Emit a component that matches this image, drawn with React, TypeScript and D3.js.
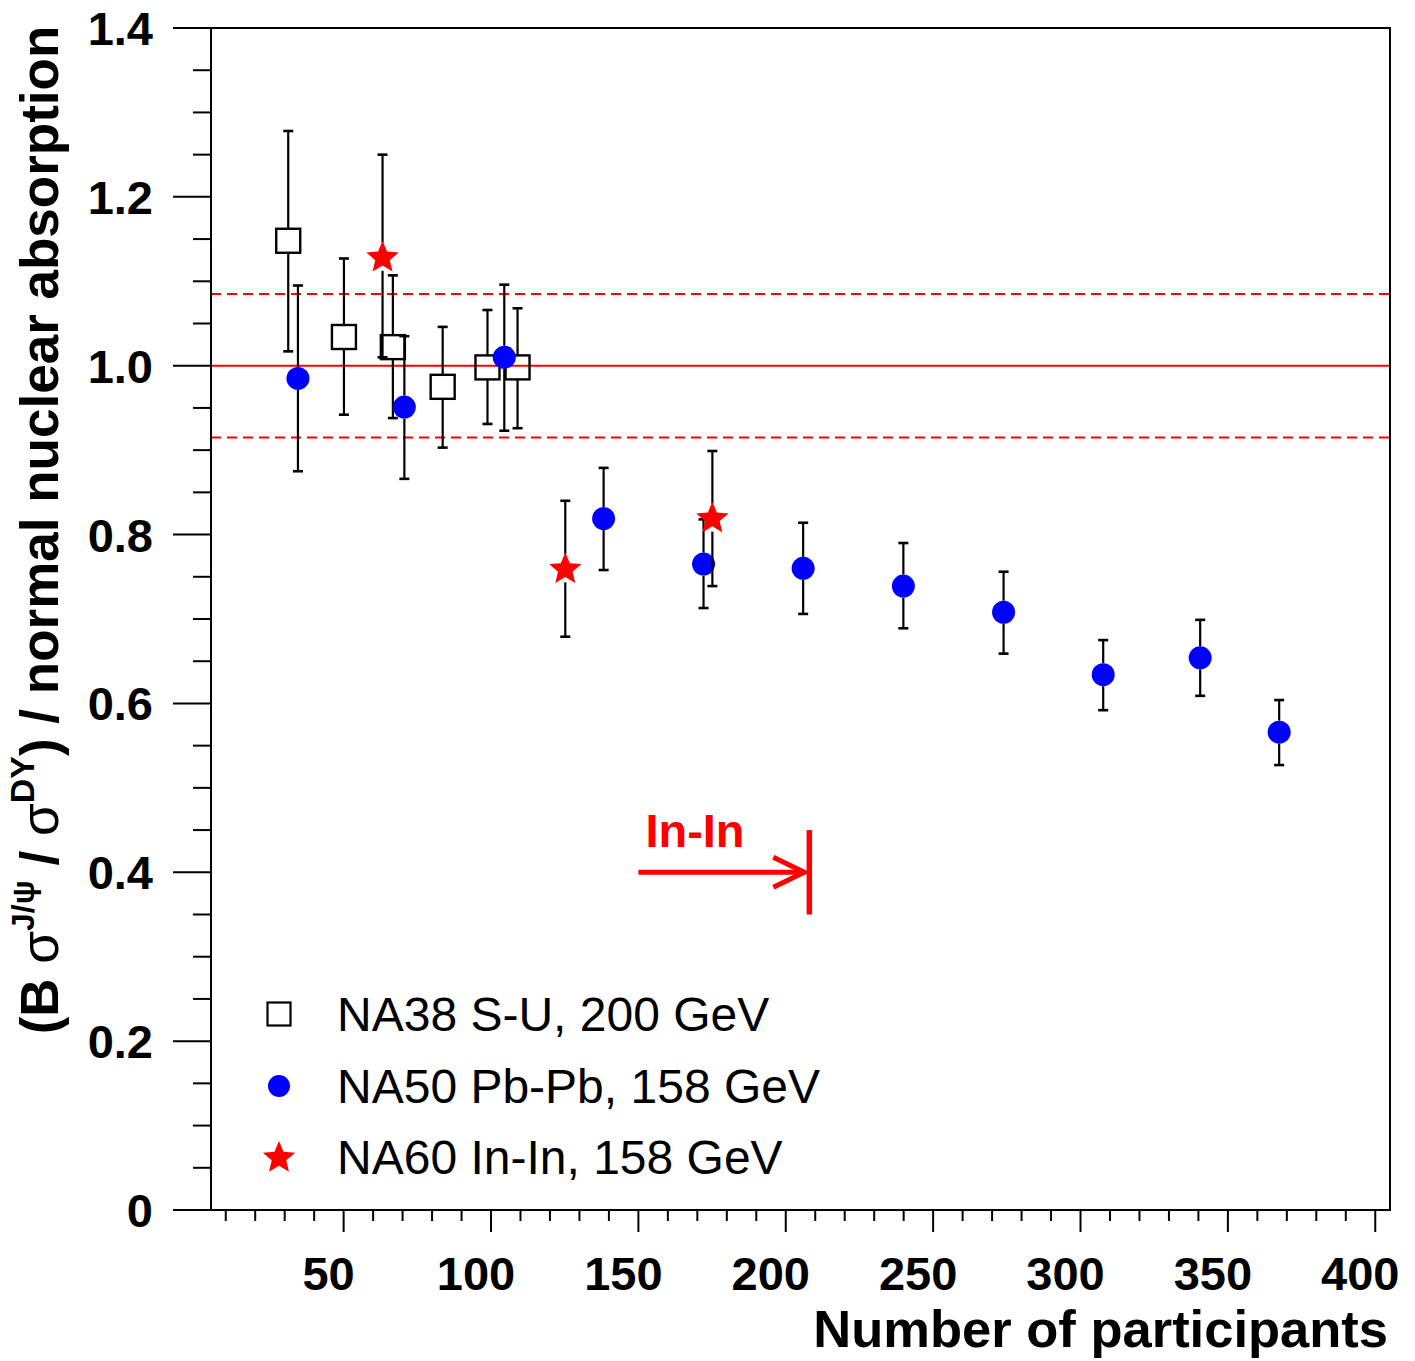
import React from "react";
import * as d3 from "d3";

// ---------- data ----------
const na38Npart = [31.2, 50.1, 66.7, 83.6, 98.8, 109.0];
const na38Val = [1.148, 1.034, 1.022, 0.975, 0.998, 0.998];
const na38Hi = [1.278, 1.127, 1.107, 1.046, 1.066, 1.068];
const na38Lo = [1.017, 0.942, 0.938, 0.903, 0.931, 0.926];

const na50Npart = [34.5, 70.6, 104.5, 138.2, 172.1, 205.9, 239.9, 273.9, 307.7, 340.6, 367.4];
const na50Val = [0.985, 0.951, 1.01, 0.819, 0.765, 0.76, 0.739, 0.708, 0.634, 0.654, 0.566];
const na50Hi = [1.095, 1.035, 1.096, 0.879, 0.818, 0.814, 0.79, 0.756, 0.675, 0.699, 0.604];
const na50Lo = [0.875, 0.866, 0.923, 0.758, 0.713, 0.706, 0.689, 0.659, 0.592, 0.609, 0.527];

const na60Npart = [63.2, 125.2, 175.1];
const na60Val = [1.129, 0.76, 0.82];
const na60Hi = [1.25, 0.84, 0.899];
const na60Lo = [1.01, 0.679, 0.739];

const refSolid = [1.0];
const refDashed = [0.915, 1.085];

const xMajorTicks = [50, 100, 150, 200, 250, 300, 350, 400];
const yMajorTicks = [0, 0.2, 0.4, 0.6, 0.8, 1.0, 1.2, 1.4];
const yTickLabels = ["0", "0.2", "0.4", "0.6", "0.8", "1.0", "1.2", "1.4"];

const legendLabels = ["NA38 S-U, 200 GeV", "NA50 Pb-Pb, 158 GeV", "NA60 In-In, 158 GeV"];

// In-In annotation (data coords)
const arrowStartX = 150;
const arrowEndX = 206.3;
const arrowY = 0.4;
const barX = 208;
const barY = [0.35, 0.45];

// ---------- layout ----------
const W = 1415;
const H = 1361;
const L = 211, R = 1390, T = 28, B = 1210;
const FONT = "'Liberation Sans', Arial, Helvetica, sans-serif";

const x = d3.scaleLinear().domain([5, 405]).range([L, R]);
const y = d3.scaleLinear().domain([0, 1.4]).range([B, T]);

function starPath(cx: number, cy: number, Ro: number) {
  const ri = Ro * 0.45;
  const pts: [number, number][] = [];
  for (let k = 0; k < 10; k++) {
    const a = (-90 + k * 36) * Math.PI / 180;
    const rr = k % 2 === 0 ? Ro : ri;
    pts.push([cx + rr * Math.cos(a), cy + rr * Math.sin(a)]);
  }
  return d3.line()(pts) + "Z";
}

function ErrBars({ xs, vs, his, los, gap }: { xs: number[]; vs: number[]; his: number[]; los: number[]; gap: number }) {
  return (
    <g stroke="#000" strokeWidth={2.2} fill="none">
      {xs.map((xv, i) => {
        const px = x(xv);
        const py = y(vs[i]);
        const ph = y(his[i]);
        const pl = y(los[i]);
        return (
          <g key={i}>
            {ph < py - gap && <line x1={px} x2={px} y1={ph} y2={py - gap} />}
            {pl > py + gap && <line x1={px} x2={px} y1={py + gap} y2={pl} />}
            <line x1={px - 5} x2={px + 5} y1={ph} y2={ph} strokeWidth={2.6} />
            <line x1={px - 5} x2={px + 5} y1={pl} y2={pl} strokeWidth={2.6} />
          </g>
        );
      })}
    </g>
  );
}

export default function App() {
  const xMinor = d3.range(10, 405, 10).filter((v) => v % 50 !== 0);
  const yMinor = d3.range(0, 1.4001, 0.05).filter((v) => Math.abs(v / 0.2 - Math.round(v / 0.2)) > 1e-6);

  const legendY = [1014, 1086, 1157];
  const legendX = 279;

  return (
    <svg width={W} height={H} style={{ position: "absolute", left: 0, top: 0, background: "#fff" }} fontFamily={FONT}>
      <rect x={0} y={0} width={W} height={H} fill="#fff" />

      {/* reference lines */}
      {refSolid.map((v, i) => (
        <line key={"s" + i} x1={L} x2={R} y1={y(v)} y2={y(v)} stroke="#ff0000" strokeWidth={2} />
      ))}
      {refDashed.map((v, i) => (
        <line key={"d" + i} x1={L} x2={R} y1={y(v)} y2={y(v)} stroke="#ff0000" strokeWidth={2} strokeDasharray="10 6" />
      ))}

      {/* frame */}
      <rect x={L} y={T} width={R - L} height={B - T} fill="none" stroke="#000" strokeWidth={2} />

      {/* y ticks */}
      {yMajorTicks.map((v, i) => (
        <g key={"ym" + i}>
          <line x1={L - 38} x2={L} y1={y(v)} y2={y(v)} stroke="#000" strokeWidth={2} />
          <text x={153} y={y(v) + 17} textAnchor="end" fontSize={47} fontWeight="bold">
            {yTickLabels[i]}
          </text>
        </g>
      ))}
      {yMinor.map((v, i) => (
        <line key={"yn" + i} x1={L - 18} x2={L} y1={y(v)} y2={y(v)} stroke="#000" strokeWidth={2} />
      ))}

      {/* x ticks */}
      {xMajorTicks.map((v, i) => (
        <g key={"xm" + i}>
          <line x1={x(v)} x2={x(v)} y1={B} y2={B + 22} stroke="#000" strokeWidth={2} />
          <text x={x(v) - 15} y={1290} textAnchor="middle" fontSize={47} fontWeight="bold">
            {String(v)}
          </text>
        </g>
      ))}
      {xMinor.map((v, i) => (
        <line key={"xn" + i} x1={x(v)} x2={x(v)} y1={B} y2={B + 11} stroke="#000" strokeWidth={2} />
      ))}

      {/* axis titles */}
      <text x={1388} y={1347} textAnchor="end" fontSize={52.5} fontWeight="bold">
        Number of participants
      </text>
      <text transform="translate(58,530) rotate(-90)" textAnchor="middle" fontSize={53} fontWeight="bold">
        (B <tspan fontWeight="normal">σ</tspan>
        <tspan fontSize={32} dy={-24}>J/ψ</tspan>
        <tspan dy={24}> / </tspan>
        <tspan fontWeight="normal">σ</tspan>
        <tspan fontSize={34} dy={-24}>DY</tspan>
        <tspan dy={24}>) / normal nuclear absorption</tspan>
      </text>

      {/* NA38 */}
      <ErrBars xs={na38Npart} vs={na38Val} his={na38Hi} los={na38Lo} gap={12} />
      {na38Npart.map((xv, i) => (
        <rect key={"sq" + i} x={x(xv) - 12} y={y(na38Val[i]) - 12} width={24} height={24} fill="none" stroke="#000" strokeWidth={2.4} />
      ))}

      {/* NA50 */}
      <ErrBars xs={na50Npart} vs={na50Val} his={na50Hi} los={na50Lo} gap={11.5} />
      {na50Npart.map((xv, i) => (
        <circle key={"c" + i} cx={x(xv)} cy={y(na50Val[i])} r={11.5} fill="#0000ff" />
      ))}

      {/* NA60 */}
      <ErrBars xs={na60Npart} vs={na60Val} his={na60Hi} los={na60Lo} gap={14} />
      {na60Npart.map((xv, i) => (
        <path key={"st" + i} d={starPath(x(xv), y(na60Val[i]) + 1, 17)} fill="#ff0000" />
      ))}

      {/* In-In annotation */}
      <text x={x(arrowStartX) + 7} y={847} fill="#ff0000" fontSize={47} fontWeight="bold">
        In-In
      </text>
      <g stroke="#ff0000" strokeWidth={5} fill="none">
        <line x1={x(arrowStartX)} x2={x(arrowEndX)} y1={y(arrowY)} y2={y(arrowY)} />
        <polyline
          points={`${x(arrowEndX) - 31},${y(arrowY) - 15} ${x(arrowEndX)},${y(arrowY)} ${x(arrowEndX) - 31},${y(arrowY) + 15}`}
        />
        <line x1={x(barX)} x2={x(barX)} y1={y(barY[1])} y2={y(barY[0])} strokeWidth={5.5} />
      </g>

      {/* legend */}
      <rect x={legendX - 11.5} y={legendY[0] - 11.5} width={23} height={23} fill="none" stroke="#000" strokeWidth={2.2} />
      <circle cx={legendX} cy={legendY[1]} r={11} fill="#0000ff" />
      <path d={starPath(legendX, legendY[2] + 1, 17)} fill="#ff0000" />
      {legendLabels.map((t, i) => (
        <text key={"lg" + i} x={337} y={legendY[i] + 17} fontSize={48}>
          {t}
        </text>
      ))}
    </svg>
  );
}
